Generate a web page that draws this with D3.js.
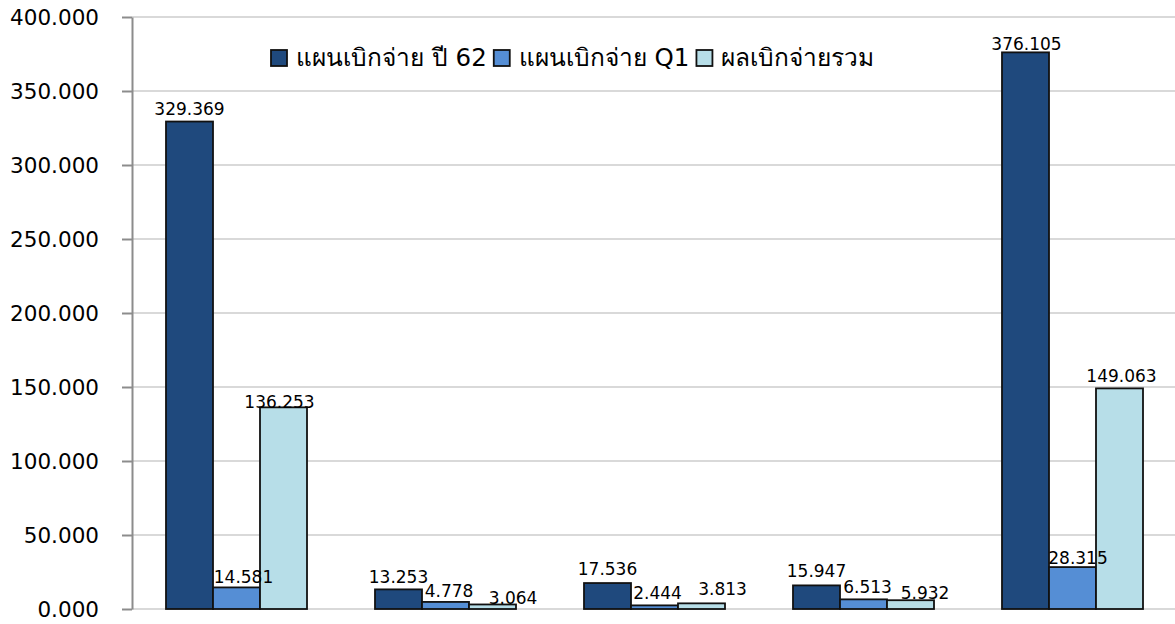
<!DOCTYPE html>
<html>
<head>
<meta charset="utf-8">
<script src="https://cdn.jsdelivr.net/npm/d3@7"></script>
<style>
  body { margin: 0; background: #fff; }
  svg text { font-family: "DejaVu Sans", Tahoma, "Noto Sans", sans-serif; fill: #000; }
</style>
</head>
<body>
<svg id="chart" width="1175" height="624"></svg>
<script>
'use strict';

// groups have no visible category labels in the picture
var groups = ['g1', 'g2', 'g3', 'g4', 'g5'];
var seriesNames = ['แผนเบิกจ่าย ปี 62', 'แผนเบิกจ่าย Q1', 'ผลเบิกจ่ายรวม'];
var planYear = [329.369, 13.253, 17.536, 15.947, 376.105];
var planQ1 = [14.581, 4.778, 2.444, 6.513, 28.315];
var actual = [136.253, 3.064, 3.813, 5.932, 149.063];
var yTicks = [0, 50, 100, 150, 200, 250, 300, 350, 400];
var colors = ['#1f497d', '#558ed5', '#b7dee8'];

// hand-moved data labels in the original (dx, dy in px per group/series)
var labelNudge = [
    [[0, -0.5], [7, 1.3], [-4, 7]],
    [[0, 0], [3.5, 1.4], [20.5, 6]],
    [[0, -2], [3, 0], [21, -2]],
    [[0, -2.7], [4, 0], [14.5, 5]],
    [[1, 4], [5.5, 3], [2, -0.7]]
];

var svg = d3.select('#chart');
var plot = { left: 132, right: 1177, top: 17, bottom: 609 };

var x0 = d3.scaleBand()
    .domain(groups)
    .range([plot.left, plot.right])
    .paddingInner(68 / 209)
    .paddingOuter(34 / 209);

var x1 = d3.scaleBand()
    .domain(d3.range(seriesNames.length))
    .range([0, x0.bandwidth()]);

var y = d3.scaleLinear()
    .domain([0, 400])
    .range([plot.bottom, plot.top]);

// grid
svg.append('g')
    .selectAll('line')
    .data(yTicks)
    .enter()
    .append('line')
    .attr('x1', plot.left)
    .attr('x2', plot.right)
    .attr('y1', function(d) { return y(d); })
    .attr('y2', function(d) { return y(d); })
    .attr('stroke', '#d9d9d9')
    .attr('stroke-width', 2);

// y axis
var axisY = d3.axisLeft(y)
    .tickValues(yTicks)
    .tickFormat(d3.format('.3f'))
    .tickSize(10)
    .tickSizeOuter(0)
    .tickPadding(23);

var gy = svg.append('g')
    .attr('transform', 'translate(' + plot.left + ',0)')
    .call(axisY);

gy.select('.domain').attr('stroke', '#8c8c8c').attr('stroke-width', 2);
gy.selectAll('.tick line').attr('stroke', '#8c8c8c').attr('stroke-width', 2);
gy.selectAll('.tick text')
    .style('font-size', '21.5px')
    .attr('dy', '0.36em');

// bars
var rows = groups.map(function(g, i) {
    return { key: g, index: i, values: [planYear[i], planQ1[i], actual[i]] };
});

var groupSel = svg.append('g')
    .selectAll('g')
    .data(rows)
    .enter()
    .append('g')
    .attr('transform', function(d) { return 'translate(' + x0(d.key) + ',0)'; });

groupSel.selectAll('rect')
    .data(function(d) { return d.values; })
    .enter()
    .append('rect')
    .attr('x', function(d, i) { return x1(i); })
    .attr('y', function(d) { return y(d); })
    .attr('width', x1.bandwidth())
    .attr('height', function(d) { return y(0) - y(d); })
    .attr('fill', function(d, i) { return colors[i]; })
    .attr('stroke', '#111')
    .attr('stroke-width', 1.8);

groupSel.selectAll('text')
    .data(function(d) {
        return d.values.map(function(v, i) {
            return { value: v, series: i, nudge: labelNudge[d.index][i] };
        });
    })
    .enter()
    .append('text')
    .attr('x', function(d) { return x1(d.series) + x1.bandwidth() / 2 + d.nudge[0]; })
    .attr('y', function(d) { return y(d.value) - 6 + d.nudge[1]; })
    .attr('text-anchor', 'middle')
    .style('font-size', '17px')
    .text(function(d) { return d3.format('.3f')(d.value); });

// legend, laid out from measured text widths
var legend = svg.append('g')
    .attr('transform', 'translate(271,50)');

var cursor = 0;
seriesNames.forEach(function(name, i) {
    var item = legend.append('g')
        .attr('transform', 'translate(' + cursor + ',0)');

    item.append('rect')
        .attr('width', 16)
        .attr('height', 16)
        .attr('fill', colors[i])
        .attr('stroke', '#111')
        .attr('stroke-width', 1.8);

    var label = item.append('text')
        .attr('x', 25)
        .attr('y', 16)
        .style('font-size', '24.5px')
        .text(name);

    cursor += 25 + label.node().getComputedTextLength() + 7;
});
</script>
</body>
</html>
